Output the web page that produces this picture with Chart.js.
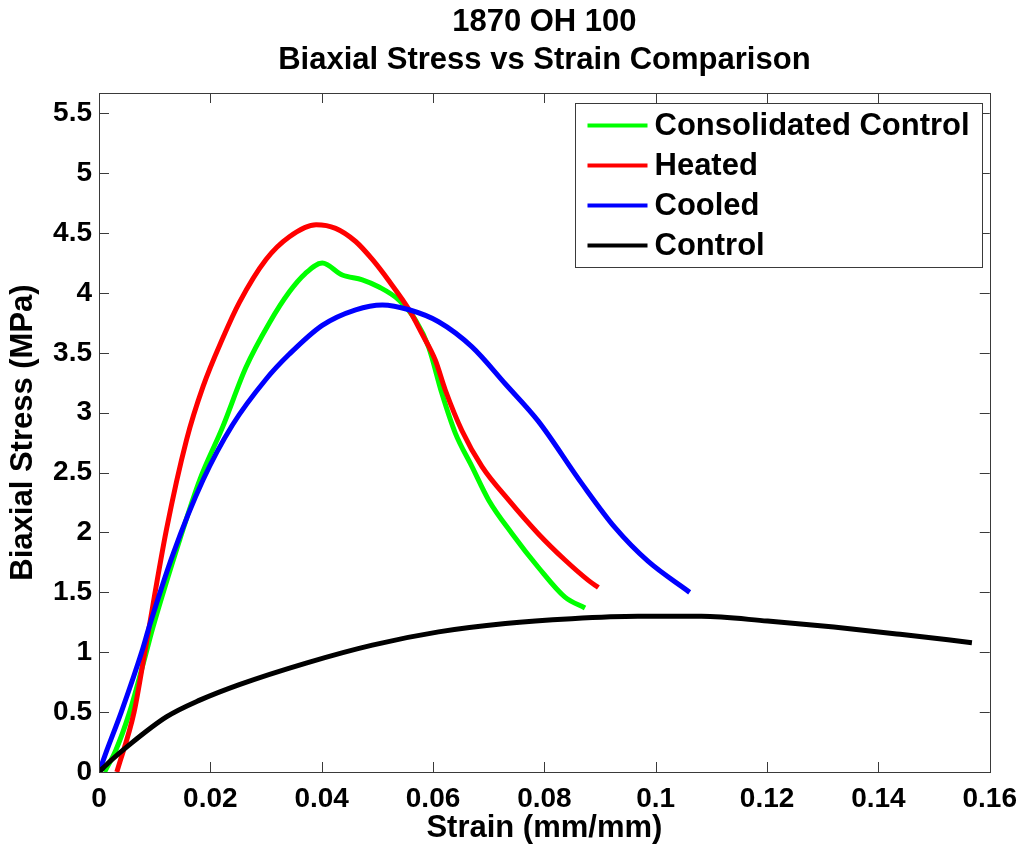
<!DOCTYPE html>
<html>
<head>
<meta charset="utf-8">
<script src="https://cdn.jsdelivr.net/npm/chart.js@4.4.1/dist/chart.umd.min.js"></script>
<style>
  html, body { margin: 0; padding: 0; background: #fff; }
  #wrap { width: 1027px; height: 849px; }
</style>
</head>
<body>
<div id="wrap"><canvas id="stressChart" width="1027" height="849"></canvas></div>
<script>
// values
const consolidatedStrain = [0.0010, 0.0030, 0.0055, 0.0082, 0.0097, 0.0145, 0.0181, 0.0222, 0.0264, 0.0306, 0.0342, 0.0370, 0.0401, 0.0437, 0.0473, 0.0503, 0.0539, 0.0569, 0.0592, 0.0616, 0.0640, 0.0670, 0.0700, 0.0742, 0.0789, 0.0837, 0.0873];
const consolidatedStress = [0, 0.18, 0.50, 0.95, 1.21, 1.94, 2.44, 2.88, 3.38, 3.75, 4.01, 4.16, 4.25, 4.15, 4.11, 4.05, 3.94, 3.77, 3.55, 3.16, 2.83, 2.55, 2.27, 1.99, 1.71, 1.46, 1.37];

const heatedStrain = [0.0032, 0.0063, 0.0083, 0.0121, 0.0157, 0.0187, 0.0222, 0.0252, 0.0300, 0.0342, 0.0390, 0.0425, 0.0461, 0.0491, 0.0521, 0.0557, 0.0580, 0.0604, 0.0622, 0.0652, 0.0688, 0.0736, 0.0789, 0.0837, 0.0879, 0.0897];
const heatedStress = [0, 0.50, 1.02, 2.02, 2.77, 3.22, 3.62, 3.92, 4.28, 4.47, 4.57, 4.54, 4.43, 4.28, 4.10, 3.86, 3.66, 3.44, 3.19, 2.85, 2.55, 2.27, 1.99, 1.77, 1.60, 1.54];

const cooledStrain = [0, 0.0014, 0.0040, 0.0078, 0.0090, 0.0133, 0.0187, 0.0240, 0.0300, 0.0342, 0.0401, 0.0461, 0.0509, 0.0557, 0.0610, 0.0670, 0.0730, 0.0789, 0.0867, 0.0927, 0.0986, 0.1061];
const cooledStress = [0, 0.18, 0.50, 1.02, 1.21, 1.82, 2.44, 2.90, 3.28, 3.49, 3.73, 3.86, 3.90, 3.86, 3.76, 3.55, 3.24, 2.93, 2.41, 2.04, 1.76, 1.50];

const controlStrain = [0, 0.0020, 0.0050, 0.0121, 0.0181, 0.0252, 0.0372, 0.0491, 0.0610, 0.0730, 0.0849, 0.0968, 0.1082, 0.1201, 0.1320, 0.1439, 0.1568];
const controlStress = [0, 0.09, 0.21, 0.46, 0.60, 0.73, 0.91, 1.06, 1.17, 1.24, 1.28, 1.30, 1.30, 1.26, 1.21, 1.15, 1.08];

const xTicks = [0, 0.02, 0.04, 0.06, 0.08, 0.1, 0.12, 0.14, 0.16];
const xTickLabels = ['0', '0.02', '0.04', '0.06', '0.08', '0.1', '0.12', '0.14', '0.16'];
const yTicks = [0, 0.5, 1, 1.5, 2, 2.5, 3, 3.5, 4, 4.5, 5, 5.5];
const yTickLabels = ['0', '0.5', '1', '1.5', '2', '2.5', '3', '3.5', '4', '4.5', '5', '5.5'];

const FONT = '"Liberation Sans", Arial, sans-serif';

function toPoints(xs, ys) {
  return xs.map((x, i) => ({ x: x, y: ys[i] }));
}

// inward ticks on all four sides + box, like the matlab axes
const axesBox = {
  id: 'axesBox',
  afterDatasetsDraw(chart) {
    const { ctx, chartArea: a, scales } = chart;
    const len = 10;
    ctx.save();
    ctx.strokeStyle = '#3a3a3a';
    ctx.lineWidth = 1;
    ctx.beginPath();
    xTicks.forEach(v => {
      const px = Math.round(scales.x.getPixelForValue(v)) + 0.5;
      ctx.moveTo(px, a.bottom); ctx.lineTo(px, a.bottom - len);
      ctx.moveTo(px, a.top); ctx.lineTo(px, a.top + len);
    });
    yTicks.forEach(v => {
      const py = Math.round(scales.y.getPixelForValue(v)) + 0.5;
      ctx.moveTo(a.left, py); ctx.lineTo(a.left + len, py);
      ctx.moveTo(a.right, py); ctx.lineTo(a.right - len, py);
    });
    ctx.stroke();
    ctx.strokeRect(Math.round(a.left) + 0.5, Math.round(a.top) + 0.5, Math.round(a.right - a.left), Math.round(a.bottom - a.top));
    ctx.restore();
  }
};

// legend box in the upper right of the plot area
const innerLegend = {
  id: 'innerLegend',
  afterDraw(chart) {
    const { ctx, chartArea: a } = chart;
    const boxW = 407, boxH = 164;
    const x0 = Math.round(a.right - 8 - boxW) + 0.5;
    const y0 = Math.round(a.top + 10) + 0.5;
    ctx.save();
    ctx.fillStyle = '#fff';
    ctx.fillRect(x0, y0, boxW, boxH);
    ctx.strokeStyle = '#3a3a3a';
    ctx.lineWidth = 1;
    ctx.strokeRect(x0, y0, boxW, boxH);
    ctx.font = 'bold 31px ' + FONT;
    ctx.textBaseline = 'middle';
    ctx.fillStyle = '#000';
    chart.data.datasets.forEach((ds, i) => {
      const cy = y0 + 22 + i * 40;
      ctx.strokeStyle = ds.borderColor;
      ctx.lineWidth = 4;
      ctx.beginPath();
      ctx.moveTo(x0 + 12, cy);
      ctx.lineTo(x0 + 72, cy);
      ctx.stroke();
      ctx.fillText(ds.label, x0 + 79, cy + 1);
    });
    ctx.restore();
  }
};

const lineStyle = { showLine: true, pointRadius: 0, borderWidth: 5, cubicInterpolationMode: 'monotone', fill: false };

new Chart(document.getElementById('stressChart'), {
  type: 'scatter',
  data: {
    datasets: [
      Object.assign({ label: 'Consolidated Control', data: toPoints(consolidatedStrain, consolidatedStress), borderColor: '#00ff00', order: 3 }, lineStyle),
      Object.assign({ label: 'Heated', data: toPoints(heatedStrain, heatedStress), borderColor: '#ff0000', order: 2 }, lineStyle),
      Object.assign({ label: 'Cooled', data: toPoints(cooledStrain, cooledStress), borderColor: '#0000ff', order: 1 }, lineStyle),
      Object.assign({ label: 'Control', data: toPoints(controlStrain, controlStress), borderColor: '#000000', order: 0 }, lineStyle)
    ]
  },
  options: {
    responsive: false,
    animation: false,
    layout: { padding: { left: 0, right: 34, top: 0, bottom: 0 } },
    plugins: {
      legend: { display: false },
      tooltip: { enabled: false },
      title: {
        display: true,
        fullSize: false,
        text: ['1870 OH 100', 'Biaxial Stress vs Strain Comparison'],
        color: '#000',
        font: { family: FONT, size: 31, weight: 'bold', lineHeight: 1.226 },
        padding: { top: 3, bottom: 14 }
      }
    },
    scales: {
      x: {
        type: 'linear',
        min: 0,
        max: 0.16,
        grid: { display: false, drawTicks: false },
        border: { display: false },
        afterBuildTicks: s => { s.ticks = xTicks.map(v => ({ value: v })); },
        afterFit: s => { s.height = 77; },
        ticks: {
          color: '#000',
          padding: 10,
          maxRotation: 0,
          font: { family: FONT, size: 28, weight: 'bold' },
          callback: (v, i) => xTickLabels[i]
        },
        title: {
          display: true,
          text: 'Strain (mm/mm)',
          color: '#000',
          font: { family: FONT, size: 31, weight: 'bold', lineHeight: 1.2 },
          padding: { top: 0, bottom: 2 }
        }
      },
      y: {
        type: 'linear',
        min: 0,
        max: 5.67,
        grid: { display: false, drawTicks: false },
        border: { display: false },
        afterBuildTicks: s => { s.ticks = yTicks.map(v => ({ value: v })); },
        afterFit: s => { s.width = 99; },
        ticks: {
          color: '#000',
          padding: 7,
          font: { family: FONT, size: 28, weight: 'bold' },
          callback: (v, i) => yTickLabels[i]
        },
        title: {
          display: true,
          text: 'Biaxial Stress (MPa)',
          color: '#000',
          font: { family: FONT, size: 31, weight: 'bold', lineHeight: 1.2 },
          padding: { top: 5, bottom: 0 }
        }
      }
    }
  },
  plugins: [axesBox, innerLegend]
});
</script>
</body>
</html>
